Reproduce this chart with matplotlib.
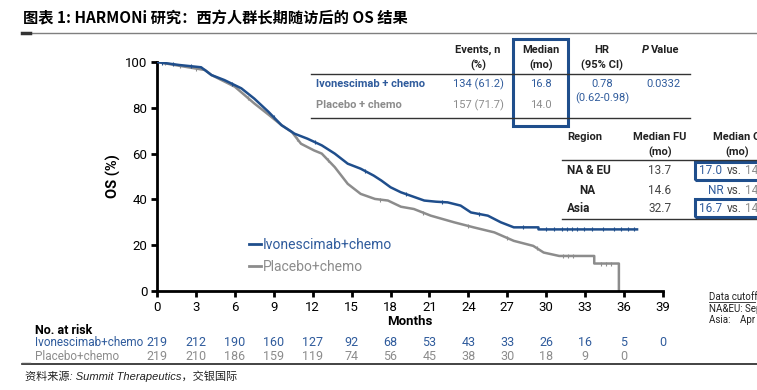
import numpy as np
import matplotlib
matplotlib.use("Agg")
import matplotlib.pyplot as plt
from matplotlib.lines import Line2D
from matplotlib.patches import Rectangle
from matplotlib.transforms import blended_transform_factory

plt.rcParams['font.family'] = ['Roboto', 'Noto Sans CJK SC', 'DejaVu Sans']

# KM curve vertices (months, OS %)
ivo_t = [0, 1.7, 3.4, 4.2, 5.2, 6.5, 7.5, 8.6, 9.6, 10.6, 11.6, 12.7, 13.7, 14.7,
         15.7, 16.7, 17.3, 18.0, 18.8, 19.6, 20.6, 21.5, 22.4, 23.4, 24.2, 25.5,
         26.5, 27.5, 29.4, 29.4, 37.0]
ivo_s = [100, 98.7, 97.7, 94.3, 92.1, 88.5, 84.0, 78.2, 72.4, 68.7, 66.5, 63.6, 60.0,
         55.6, 53.4, 50.4, 48.2, 45.3, 43.1, 41.5, 39.5, 39.0, 38.7, 37.3, 34.3,
         32.9, 30.0, 27.8, 27.8, 26.9, 26.9]
pbo_t = [0, 2.4, 3.7, 4.2, 6.0, 7.5, 8.6, 9.6, 10.4, 11.1, 12.1, 12.7, 13.7, 14.7,
         15.7, 16.8, 17.8, 18.8, 19.8, 21.1, 22.9, 24.4, 26.0, 27.5, 29.0, 29.8,
         31.0, 33.7, 33.7, 35.6, 35.6]
pbo_s = [100, 97.7, 96.5, 94.3, 89.2, 81.9, 77.0, 72.4, 69.4, 64.3, 61.4, 60.0, 54.1,
         46.8, 42.4, 40.2, 39.5, 36.8, 35.8, 32.9, 30.0, 27.8, 25.6, 21.9, 19.7,
         16.8, 15.3, 15.3, 12.0, 12.0, 0]

# censoring ticks (months)
ivo_cens = [0.4, 1.2, 2.6, 5.8, 9.0, 12.2, 16.0, 19.2, 22.0, 24.8, 28.2, 30.0, 30.6,
            31.2, 31.6, 32.0, 32.4, 32.9, 33.5, 34.4, 35.2, 35.8, 36.3, 36.8]
pbo_cens = [0.6, 1.8, 3.0, 7.0, 10.8, 13.2, 17.2, 20.5, 24.0, 27.0, 29.3, 31.3, 31.7,
            32.1, 34.2, 34.6, 35.0]

risk_months = [0, 3, 6, 9, 12, 15, 18, 21, 24, 27, 30, 33, 36, 39]
risk_ivo = [219, 212, 190, 160, 127, 92, 68, 53, 43, 33, 26, 16, 5, 0]
risk_pbo = [219, 210, 186, 159, 119, 74, 56, 45, 38, 30, 18, 9, 0]

BLUE = '#1f4e8c'
BLUE_T = '#2f5b9c'
GREY = '#8c8c8c'
DARK = '#222222'

W, H = 757, 390
fig = plt.figure(figsize=(W / 100, H / 100), dpi=100)


def fx(x):
    return x / W


def fy(y):
    return 1 - y / H


def ftext(x, y, s, **kw):
    kw.setdefault('va', 'center')
    return fig.text(fx(x), fy(y), s, **kw)


def hline(x0, x1, y, **kw):
    fig.add_artist(Line2D([fx(x0), fx(x1)], [fy(y), fy(y)], transform=fig.transFigure, **kw))


ax = fig.add_axes([fx(157), fy(291), fx(663) - fx(157), fy(62) - fy(291)])
ax.plot(ivo_t, ivo_s, color=BLUE, lw=1.8, zorder=3)
ax.plot(pbo_t, pbo_s, color=GREY, lw=1.8, zorder=2)
ax.plot(ivo_cens, np.interp(ivo_cens, ivo_t, ivo_s), ls='none', marker='|', ms=3.5,
        mew=0.8, color=BLUE, zorder=3)
ax.plot(pbo_cens, np.interp(pbo_cens, pbo_t, pbo_s), ls='none', marker='|', ms=3.5,
        mew=0.8, color=GREY, zorder=2)

ax.set_xlim(0, 39)
ax.set_ylim(0, 100)
ax.set_xticks(range(0, 40, 3))
ax.set_yticks(range(0, 101, 20))
for side in ['top', 'right']:
    ax.spines[side].set_visible(False)
for side in ['left', 'bottom']:
    ax.spines[side].set_linewidth(2)
ax.tick_params(axis='both', direction='out', length=4, width=2, labelsize=9.5,
               colors='black', pad=3)
ax.set_ylabel('OS (%)', fontsize=10.5, fontweight='bold', labelpad=3)
ax.set_xlabel('Months', fontsize=9.5, fontweight='bold', labelpad=1)
ax.patch.set_alpha(0)

leg_handles = [Line2D([], [], color=BLUE, lw=2), Line2D([], [], color=GREY, lw=2)]
ax.legend(leg_handles, ['Ivonescimab+chemo', 'Placebo+chemo'], loc='upper left',
          bbox_to_anchor=(0.17, 0.255), frameon=False, handlelength=0.9,
          handletextpad=0.15, labelspacing=0.55, fontsize=10, labelcolor=[BLUE_T, GREY],
          borderaxespad=0)

# Title
ftext(23, 18, '图表 1: HARMONi 研究：西方人群长期随访后的 OS 结果', fontsize=11,
      fontweight='bold', family=['Noto Sans CJK SC', 'DejaVu Sans'], color='black')
hline(22, 757, 33, color='#7f7f7f', lw=1)
hline(22, 30, 33, color='#333333', lw=2.5)

# Upper table
ftext(478, 50, 'Events, n', ha='center', fontsize=8, fontweight='bold', color=DARK)
ftext(478, 65, '(%)', ha='center', fontsize=8, fontweight='bold', color=DARK)
ftext(541, 50, 'Median', ha='center', fontsize=8, fontweight='bold', color=DARK)
ftext(541, 65, '(mo)', ha='center', fontsize=8, fontweight='bold', color=DARK)
ftext(602, 50, 'HR', ha='center', fontsize=8, fontweight='bold', color=DARK)
ftext(602, 65, '(95% CI)', ha='center', fontsize=8, fontweight='bold', color=DARK)
ftext(642, 50, 'P', fontsize=8, fontstyle='italic', fontweight='bold', color=DARK)
ftext(651, 50, 'Value', fontsize=8, fontweight='bold', color=DARK)
hline(311, 690, 74, color='#333333', lw=1)
ftext(316, 84, 'Ivonescimab + chemo', fontsize=8, fontweight='bold', color=BLUE_T)
ftext(316, 105, 'Placebo + chemo', fontsize=8, fontweight='bold', color=GREY)
ftext(478, 84, '134 (61.2)', ha='center', fontsize=8, color=BLUE_T)
ftext(478, 105, '157 (71.7)', ha='center', fontsize=8, color=GREY)
ftext(541, 84, '16.8', ha='center', fontsize=8, color=BLUE_T)
ftext(541, 105, '14.0', ha='center', fontsize=8, color=GREY)
ftext(602, 84, '0.78', ha='center', fontsize=8, color=BLUE_T)
ftext(602, 98, '(0.62-0.98)', ha='center', fontsize=8, color=BLUE_T)
ftext(663, 84, '0.0332', ha='center', fontsize=8, color=BLUE_T)
hline(311, 690, 118, color='#333333', lw=1)
fig.add_artist(Rectangle((fx(513), fy(126)), fx(568) - fx(513), fy(39) - fy(126),
                         transform=fig.transFigure, fill=False, ec=BLUE, lw=2.2))

# Region table
ftext(567, 137, 'Region', fontsize=8, fontweight='bold', color=DARK)
ftext(660, 137, 'Median FU', ha='center', fontsize=8, fontweight='bold', color=DARK)
ftext(660, 152, '(mo)', ha='center', fontsize=8, fontweight='bold', color=DARK)
ftext(713, 137, 'Median OS', fontsize=8, fontweight='bold', color=DARK)
ftext(737, 152, '(mo)', ha='center', fontsize=8, fontweight='bold', color=DARK)
hline(562, 757, 160, color='#333333', lw=1)
regions = ['NA & EU', 'NA', 'Asia']
region_fu = ['13.7', '14.6', '32.7']
region_os_a = ['17.0', 'NR', '16.7']
region_os_b = ['14.0', '14.6', '14.1']
row_y = [170, 190, 209]
for i, r in enumerate(regions):
    ftext(579 if r == 'NA' else 567, row_y[i], r, fontsize=8.5, fontweight='bold',
          color=DARK)
    ftext(660, row_y[i], region_fu[i], ha='center', fontsize=8.5, color='#444444')
    ftext(699 if i != 1 else 708, row_y[i], region_os_a[i], fontsize=8.5, color=BLUE_T)
    ftext(727, row_y[i], 'vs.', fontsize=8.5, color='#444444')
    ftext(745, row_y[i], region_os_b[i], fontsize=8.5, color=GREY)
hline(562, 757, 219, color='#333333', lw=1)
for y0, y1 in [(162, 180), (199, 217)]:
    fig.add_artist(Rectangle((fx(695), fy(y1)), fx(780) - fx(695), fy(y0) - fy(y1),
                             transform=fig.transFigure, fill=False, ec=BLUE, lw=2.2))

# Data cutoff note
ftext(709, 297, 'Data cutoff', fontsize=7, color=DARK)
ftext(709, 309, 'NA&EU: Sep 2025', fontsize=7, color=DARK)
ftext(709, 320, 'Asia:    Apr 2024', fontsize=7, color=DARK)
hline(709, 755, 302, color=DARK, lw=0.6)

# Number at risk
ftext(35, 330, 'No. at risk', fontsize=9, fontweight='bold', color='black')
ftext(35, 343, 'Ivonescimab+chemo', fontsize=8.5, color=BLUE_T)
ftext(35, 357, 'Placebo+chemo', fontsize=8.5, color=GREY)
tr = blended_transform_factory(ax.transData, fig.transFigure)
for m, n in zip(risk_months, risk_ivo):
    ax.text(m, fy(343), str(n), transform=tr, ha='center', va='center', fontsize=9,
            color=BLUE_T)
for m, n in zip(risk_months, risk_pbo):
    ax.text(m, fy(357), str(n), transform=tr, ha='center', va='center', fontsize=9,
            color=GREY)

hline(22, 757, 364, color='#222222', lw=1.2)
hline(22, 30, 362.5, color='#555555', lw=1)
ftext(25, 376, '资料来源: Summit Therapeutics，交银国际', fontsize=8, fontstyle='italic',
      family=['Liberation Sans Narrow', 'Liberation Sans', 'Noto Sans CJK SC'], color=DARK)

fig.savefig('out.png', dpi=100)
